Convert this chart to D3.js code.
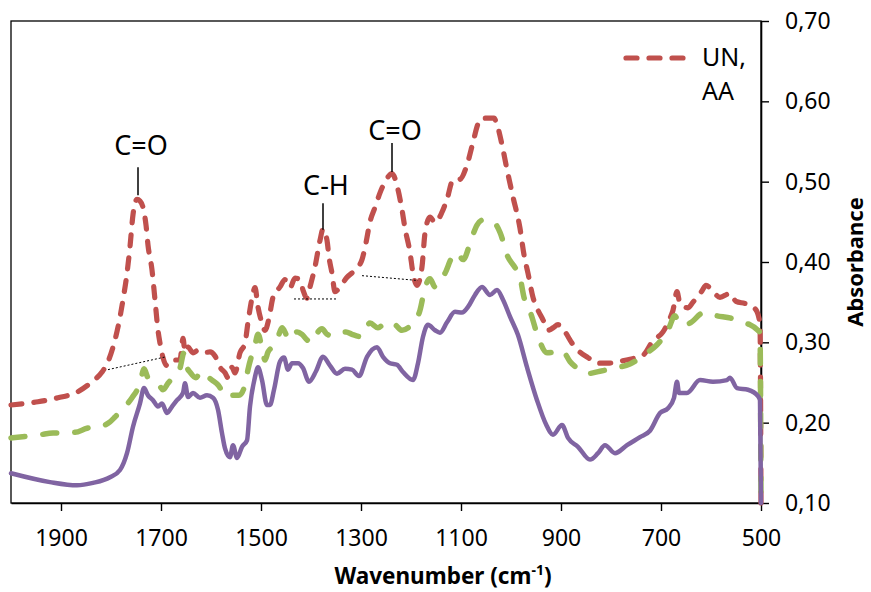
<!DOCTYPE html>
<html>
<head>
<meta charset="utf-8">
<script src="https://cdn.jsdelivr.net/npm/d3@7"></script>
<style>
  body { margin: 0; background: #fff; }
  text { font-family: "Noto Sans", "Open Sans", sans-serif; }
</style>
</head>
<body>
<div id="chart"></div>
<script>
// tick values
const xTicks = [1900, 1700, 1500, 1300, 1100, 900, 700, 500];
const yTicks = [0.1, 0.2, 0.3, 0.4, 0.5, 0.6, 0.7];

// [wavenumber, absorbance]
const unAA = [
  [2000,0.222],[1946,0.226],[1906,0.231],[1868,0.238],[1838,0.251],[1818,0.263],[1806,0.276],
  [1796,0.294],[1786,0.319],[1776,0.353],[1768,0.386],[1762,0.419],[1756,0.459],[1752,0.473],
  [1748,0.478],[1742,0.476],[1736,0.468],[1730,0.446],[1726,0.421],[1718,0.390],[1712,0.353],
  [1706,0.315],[1702,0.299],[1696,0.281],[1688,0.271],[1676,0.278],[1662,0.278],[1656,0.305],
  [1652,0.288],[1646,0.294],[1636,0.287],[1626,0.290],[1616,0.287],[1602,0.288],[1592,0.283],
  [1582,0.269],[1572,0.262],[1566,0.256],[1558,0.269],[1552,0.262],[1542,0.287],[1532,0.299],
  [1526,0.325],[1518,0.355],[1512,0.368],[1506,0.344],[1498,0.324],[1492,0.315],[1484,0.330],
  [1476,0.356],[1462,0.369],[1452,0.378],[1442,0.368],[1432,0.380],[1422,0.378],[1416,0.365],
  [1408,0.355],[1402,0.369],[1392,0.394],[1382,0.427],[1376,0.441],[1368,0.427],[1364,0.406],
  [1358,0.386],[1352,0.363],[1342,0.369],[1328,0.381],[1312,0.390],[1298,0.403],[1290,0.424],
  [1282,0.450],[1272,0.468],[1262,0.486],[1250,0.502],[1238,0.510],[1226,0.490],[1218,0.465],
  [1212,0.442],[1202,0.412],[1196,0.386],[1188,0.371],[1178,0.394],[1172,0.436],[1162,0.456],
  [1152,0.449],[1138,0.462],[1128,0.478],[1116,0.502],[1102,0.503],[1088,0.521],[1076,0.549],
  [1066,0.572],[1058,0.579],[1042,0.579],[1034,0.579],[1028,0.571],[1018,0.546],[1008,0.515],
  [996,0.481],[982,0.442],[974,0.409],[966,0.386],[956,0.356],[946,0.340],[936,0.328],
  [926,0.315],[916,0.318],[906,0.322],[892,0.313],[878,0.299],[866,0.290],[846,0.281],
  [826,0.274],[806,0.274],[786,0.276],[762,0.279],[736,0.284],[716,0.302],[696,0.313],
  [682,0.330],[676,0.340],[668,0.363],[662,0.348],[646,0.343],[636,0.350],[618,0.364],
  [610,0.371],[598,0.365],[582,0.356],[562,0.361],[550,0.351],[530,0.348],[512,0.342],
  [504,0.330],[502,0.322],[500,0.100]
];

const seriesB = [
  [2000,0.181],[1942,0.185],[1916,0.187],[1872,0.188],[1848,0.193],[1822,0.195],[1802,0.201],
  [1792,0.207],[1772,0.220],[1758,0.231],[1742,0.249],[1734,0.267],[1726,0.256],[1716,0.253],
  [1706,0.249],[1696,0.241],[1686,0.249],[1676,0.257],[1662,0.268],[1654,0.287],[1648,0.269],
  [1642,0.263],[1630,0.256],[1620,0.264],[1610,0.259],[1598,0.253],[1586,0.247],[1576,0.238],
  [1566,0.231],[1556,0.234],[1544,0.234],[1532,0.247],[1526,0.266],[1512,0.297],[1506,0.310],
  [1498,0.293],[1492,0.278],[1486,0.288],[1478,0.294],[1468,0.303],[1458,0.318],[1448,0.308],
  [1438,0.303],[1428,0.313],[1418,0.310],[1408,0.303],[1396,0.300],[1386,0.313],[1378,0.317],
  [1368,0.310],[1354,0.308],[1340,0.312],[1330,0.313],[1318,0.310],[1300,0.307],[1282,0.324],
  [1266,0.318],[1250,0.325],[1232,0.322],[1218,0.315],[1202,0.320],[1188,0.330],[1182,0.340],
  [1172,0.368],[1162,0.379],[1152,0.369],[1132,0.386],[1118,0.406],[1108,0.412],[1096,0.403],
  [1078,0.431],[1068,0.446],[1058,0.452],[1036,0.450],[1022,0.437],[1006,0.406],[994,0.395],
  [982,0.381],[974,0.356],[960,0.335],[946,0.307],[928,0.287],[910,0.288],[898,0.290],
  [882,0.276],[866,0.267],[848,0.261],[822,0.264],[792,0.268],[762,0.273],[728,0.287],
  [708,0.297],[686,0.315],[672,0.333],[664,0.323],[650,0.322],[642,0.324],[614,0.337],
  [588,0.333],[560,0.330],[536,0.324],[522,0.322],[506,0.315],[502,0.312],[500,0.100]
];

const seriesC = [
  [2000,0.137],[1922,0.126],[1868,0.122],[1836,0.125],[1802,0.132],[1782,0.141],[1768,0.162],
  [1756,0.195],[1742,0.224],[1734,0.243],[1726,0.234],[1716,0.228],[1706,0.220],[1698,0.224],
  [1688,0.212],[1678,0.220],[1668,0.228],[1656,0.237],[1652,0.249],[1646,0.232],[1636,0.237],
  [1622,0.231],[1608,0.234],[1596,0.231],[1586,0.216],[1578,0.187],[1572,0.168],[1562,0.157],
  [1556,0.172],[1548,0.156],[1538,0.170],[1528,0.178],[1522,0.220],[1512,0.257],[1506,0.269],
  [1498,0.253],[1488,0.222],[1482,0.222],[1474,0.241],[1462,0.276],[1454,0.281],[1446,0.266],
  [1438,0.274],[1426,0.274],[1416,0.268],[1404,0.251],[1390,0.264],[1376,0.282],[1362,0.271],
  [1348,0.261],[1332,0.267],[1318,0.266],[1304,0.258],[1288,0.282],[1268,0.294],[1256,0.282],
  [1242,0.274],[1228,0.272],[1216,0.263],[1196,0.253],[1186,0.274],[1176,0.307],[1166,0.322],
  [1152,0.315],[1142,0.312],[1128,0.325],[1112,0.338],[1098,0.337],[1086,0.344],[1072,0.359],
  [1058,0.369],[1042,0.359],[1028,0.365],[1016,0.353],[1002,0.332],[986,0.309],[968,0.269],
  [948,0.228],[930,0.198],[916,0.185],[898,0.197],[886,0.181],[866,0.170],[842,0.154],
  [826,0.162],[812,0.172],[792,0.162],[768,0.172],[742,0.182],[722,0.190],[702,0.212],
  [686,0.218],[674,0.231],[668,0.251],[664,0.237],[648,0.237],[622,0.253],[596,0.251],
  [568,0.253],[562,0.256],[548,0.243],[526,0.241],[506,0.233],[502,0.228],[500,0.100]
];

// peak labels: [text, wavenumber, line top, line bottom, text baseline]
const peakLabels = [
  ["C=O", 1746, 0.518, 0.483, 0.533],
  ["C-H", 1376, 0.473, 0.440, 0.483],
  ["C=O", 1238, 0.548, 0.512, 0.552]
];
// dotted baselines under the peaks: [wn1, abs1, wn2, abs2]
const baselines = [
  [1806, 0.266, 1690, 0.282],
  [1434, 0.354, 1346, 0.354],
  [1298, 0.383, 1186, 0.377]
];

const width = 871, height = 592;
const plot = {left: 11, right: 761, top: 21, bottom: 503};

const svg = d3.select("#chart").append("svg")
  .attr("width", width).attr("height", height);

const x = d3.scaleLinear().domain([2000, 500]).range([plot.left, plot.right]);
const y = d3.scaleLinear().domain([0.1, 0.7]).range([plot.bottom, plot.top]);

// chart frame
svg.append("rect")
  .attr("x", plot.left).attr("y", plot.top)
  .attr("width", plot.right - plot.left).attr("height", plot.bottom - plot.top)
  .attr("fill", "none").attr("stroke", "#000").attr("stroke-width", 1.3);

// axes
const gx = svg.append("g")
  .attr("transform", `translate(0,${plot.bottom})`)
  .call(d3.axisBottom(x).tickValues(xTicks).tickSize(8).tickSizeOuter(0)
        .tickPadding(19).tickFormat(d3.format("d")));
const gy = svg.append("g")
  .attr("transform", `translate(${plot.right},0)`)
  .call(d3.axisRight(y).tickValues(yTicks).tickSize(8).tickSizeOuter(0)
        .tickPadding(16).tickFormat(d => d3.format(".2f")(d).replace(".", ",")));
[gx, gy].forEach(g => {
  g.selectAll("path.domain").attr("stroke", "#000").attr("stroke-width", 1.6);
  g.selectAll(".tick line").attr("stroke", "#000").attr("stroke-width", 1.4);
  g.selectAll(".tick text").attr("font-size", 23).attr("fill", "#000")
    .style("font-family", '"Noto Sans", sans-serif');
});

// axis titles
const xt = svg.append("text")
  .attr("x", 443).attr("y", 584)
  .attr("text-anchor", "middle").attr("font-size", 22.5).attr("font-weight", "bold");
xt.append("tspan").text("Wavenumber (cm");
xt.append("tspan").attr("font-size", 14).attr("dy", -9).text("-1");
xt.append("tspan").attr("dy", 9).text(")");

svg.append("text")
  .attr("transform", "translate(863,262) rotate(-90)")
  .attr("text-anchor", "middle").attr("font-size", 22).attr("font-weight", "bold")
  .text("Absorbance");

// spectra
const line = d3.line()
  .x(d => x(d[0])).y(d => y(d[1]))
  .curve(d3.curveMonotoneX);

svg.append("path").datum(unAA)
  .attr("d", line).attr("fill", "none")
  .attr("stroke", "#C0504D").attr("stroke-width", 5.2)
  .attr("stroke-dasharray", "11,12").attr("stroke-linecap", "round")
  .attr("stroke-linejoin", "round");

svg.append("path").datum(seriesB)
  .attr("d", line).attr("fill", "none")
  .attr("stroke", "#9BBB59").attr("stroke-width", 5.5)
  .attr("stroke-dasharray", "14,18").attr("stroke-linecap", "round")
  .attr("stroke-linejoin", "round");

svg.append("path").datum(seriesC)
  .attr("d", line).attr("fill", "none")
  .attr("stroke", "#8064A2").attr("stroke-width", 4.5)
  .attr("stroke-linecap", "round").attr("stroke-linejoin", "round");

// dotted baselines
svg.selectAll("line.base").data(baselines).join("line")
  .attr("class", "base")
  .attr("x1", d => x(d[0])).attr("y1", d => y(d[1]))
  .attr("x2", d => x(d[2])).attr("y2", d => y(d[3]))
  .attr("stroke", "#000").attr("stroke-width", 1)
  .attr("stroke-dasharray", "2,2");

// peak labels
svg.selectAll("line.peak").data(peakLabels).join("line")
  .attr("class", "peak")
  .attr("x1", d => x(d[1])).attr("x2", d => x(d[1]))
  .attr("y1", d => y(d[2])).attr("y2", d => y(d[3]))
  .attr("stroke", "#000").attr("stroke-width", 1.5);
svg.selectAll("text.peak").data(peakLabels).join("text")
  .attr("class", "peak")
  .attr("x", d => x(d[1]) + 3).attr("y", d => y(d[4]))
  .attr("text-anchor", "middle").attr("font-size", 27)
  .text(d => d[0]);

// legend (only the first entry is visible)
const leg = svg.append("g").attr("transform", "translate(626,58)");
leg.append("line").attr("x1", 0).attr("x2", 62).attr("y1", 0).attr("y2", 0)
  .attr("stroke", "#C0504D").attr("stroke-width", 5.2)
  .attr("stroke-dasharray", "11,12").attr("stroke-linecap", "round");
leg.append("text").attr("x", 76).attr("y", 8).attr("font-size", 25).text("UN,");
leg.append("text").attr("x", 76).attr("y", 42).attr("font-size", 25).text("AA");
</script>
</body>
</html>
